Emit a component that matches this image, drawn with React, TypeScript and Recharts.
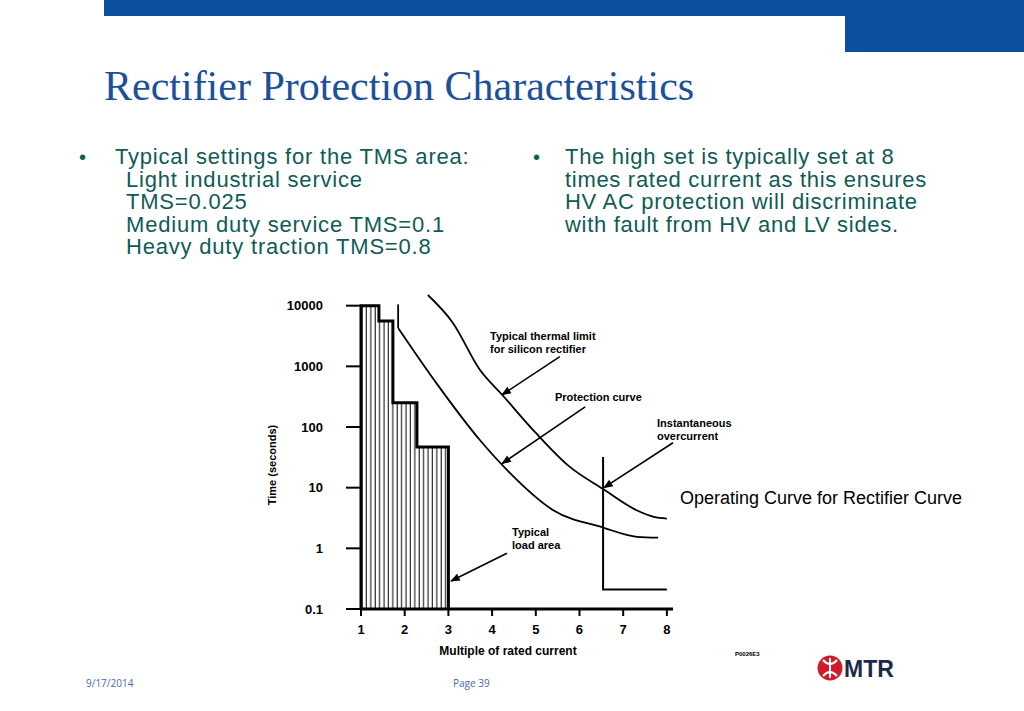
import React from "react";
import {
  ComposedChart, Area, Line, XAxis, YAxis, ReferenceLine,
} from "recharts";

// typical load area (stepped), multiple of rated current vs time (s)
const loadX = [1, 1, 1.41, 1.73, 2.28, 3, 3];
const loadT = [0.1, 10000, 5600, 250, 47, 47, 0.1];

// typical thermal limit for silicon rectifier
const thermalX = [2.53, 3.1, 3.72, 4.23, 5.0, 5.78, 6.54, 7.32, 7.7, 8.0];
const thermalT = [15000, 5250, 880, 340, 80, 22, 9.5, 4.2, 3.3, 3.1];

// protection curve (short vertical start + inverse curve)
const highSetX = [1.85, 1.85];
const highSetT = [10500, 4300];
const protX = [1.85, 2.75, 3.72, 4.34, 5.39, 6.54, 7.32, 7.8];
const protT = [4300, 500, 61, 19.6, 4.3, 2.2, 1.55, 1.5];

// instantaneous overcurrent
const instX = [6.54, 6.54, 8.0];
const instT = [32, 0.21, 0.21];

const xTicks = [1, 2, 3, 4, 5, 6, 7, 8];
const yTicks = [0.1, 1, 10, 100, 1000, 10000];

// annotation arrows: from (x1,t1) to (x2,t2)
const arrows = [
  { x1: 5.55, t1: 1445, x2: 4.23, t2: 340 },
  { x1: 6.13, t1: 215, x2: 4.23, t2: 25 },
  { x1: 8.14, t1: 55, x2: 6.56, t2: 10 },
  { x1: 4.34, t1: 0.83, x2: 3.06, t2: 0.29 },
];

const leftBullet = [
  "Typical settings for the TMS area:",
  "Light industrial service",
  "TMS=0.025",
  "Medium duty service TMS=0.1",
  "Heavy duty traction TMS=0.8",
];
const rightBullet = [
  "The high set is typically set at 8",
  "times rated current as this ensures",
  "HV AC protection will discriminate",
  "with fault from HV and LV sides.",
];

const toPts = (xs: number[], ts: number[]) => xs.map((x, i) => ({ x, t: ts[i] }));

const chartFont = "'Liberation Sans', Arial, sans-serif";
const bodyColor = "#0f5b58";

const ArrowShape = (p: any) => (
  <line
    x1={p.x1} y1={p.y1} x2={p.x2} y2={p.y2}
    stroke="#000" strokeWidth={1.6} markerEnd="url(#arrowHead)"
  />
);

const note: React.CSSProperties = {
  position: "absolute",
  fontFamily: chartFont,
  fontWeight: 700,
  fontSize: 11,
  lineHeight: "13px",
  color: "#000",
  whiteSpace: "nowrap",
};

const bodyText: React.CSSProperties = {
  position: "absolute",
  top: 146,
  fontFamily: chartFont,
  fontSize: 22,
  letterSpacing: 0.8,
  lineHeight: "22.5px",
  color: bodyColor,
  whiteSpace: "nowrap",
};

export default function App() {
  const tickStyle = { fill: "#000", fontSize: 13, fontWeight: 700, fontFamily: chartFont };
  return (
    <div style={{ position: "absolute", left: 0, top: 0, width: 1024, height: 711, background: "#fff", overflow: "hidden" }}>
      {/* header bars */}
      <div style={{ position: "absolute", left: 104, top: 0, width: 920, height: 16, background: "#0b4fa0" }} />
      <div style={{ position: "absolute", left: 845, top: 0, width: 179, height: 52, background: "#0b4fa0" }} />

      <div style={{ position: "absolute", left: 104, top: 62, fontFamily: "'Liberation Serif', 'Times New Roman', serif", fontSize: 42, color: "#1c4f9c", whiteSpace: "nowrap", lineHeight: "48px" }}>
        Rectifier Protection Characteristics
      </div>

      {/* bullets */}
      <div style={{ ...bodyText, left: 79, fontSize: 20, letterSpacing: 0 }}>•</div>
      <div style={{ ...bodyText, left: 115 }}>
        {leftBullet.map((s, i) => (
          <div key={i} style={{ paddingLeft: i === 0 ? 0 : 11 }}>{s}</div>
        ))}
      </div>
      <div style={{ ...bodyText, left: 533, fontSize: 20, letterSpacing: 0 }}>•</div>
      <div style={{ ...bodyText, left: 565, letterSpacing: 0.7 }}>
        {rightBullet.map((s, i) => <div key={i}>{s}</div>)}
      </div>

      {/* chart */}
      <div style={{ position: "absolute", left: 250, top: 280 }}>
        <ComposedChart width={440} height={390} margin={{ top: 15, right: 17, bottom: 13, left: 0 }}>
          <defs>
            <pattern id="hatch" width="4.4" height="10" patternUnits="userSpaceOnUse">
              <line x1="2" y1="0" x2="2" y2="10" stroke="#000" strokeWidth="1" />
            </pattern>
            <marker id="arrowHead" viewBox="0 0 10 10" refX="9" refY="5" markerWidth="7" markerHeight="6" orient="auto">
              <path d="M0,1 L10,5 L0,9 z" fill="#000" />
            </marker>
          </defs>
          <XAxis
            dataKey="x"
            type="number"
            domain={[1, 8.14]}
            ticks={xTicks}
            height={48}
            tickSize={7}
            tickMargin={9}
            axisLine={{ stroke: "#000", strokeWidth: 3 }}
            tickLine={{ stroke: "#000", strokeWidth: 2 }}
            tick={tickStyle}
            label={{
              value: "Multiple of rated current",
              position: "insideBottom",
              offset: 2,
              dx: -9,
              style: { fill: "#000", fontSize: 12, fontWeight: 700, fontFamily: chartFont },
            }}
          />
          <YAxis
            type="number"
            scale="log"
            domain={[0.1, 15000]}
            ticks={yTicks}
            width={111}
            axisLine={false}
            tickSize={15}
            tickMargin={23}
            tickLine={{ stroke: "#000", strokeWidth: 2 }}
            tick={tickStyle}
            tickFormatter={(v: number) => String(v)}
            label={{
              content: (p: any) => {
                const vb = p.viewBox || { x: 0, y: 15, height: 314 };
                const x = vb.x + 22;
                const y = vb.y + 170;
                return (
                  <text
                    x={x} y={y}
                    transform={`rotate(-90, ${x}, ${y})`}
                    textAnchor="middle"
                    dominantBaseline="central"
                    style={{ fill: "#000", fontSize: 11, fontWeight: 700, fontFamily: chartFont }}
                  >
                    Time (seconds)
                  </text>
                );
              },
            }}
          />
          <Area
            data={toPts(loadX, loadT)}
            dataKey="t"
            type="stepAfter"
            baseValue="dataMin"
            stroke="#000"
            strokeWidth={3}
            fill="url(#hatch)"
            fillOpacity={1}
            dot={false}
            activeDot={false}
            isAnimationActive={false}
          />
          <Line data={toPts(thermalX, thermalT)} dataKey="t" type="monotone" stroke="#000" strokeWidth={1.8} dot={false} activeDot={false} isAnimationActive={false} />
          <Line data={toPts(highSetX, highSetT)} dataKey="t" type="linear" stroke="#000" strokeWidth={1.8} dot={false} activeDot={false} isAnimationActive={false} />
          <Line data={toPts(protX, protT)} dataKey="t" type="monotone" stroke="#000" strokeWidth={1.8} dot={false} activeDot={false} isAnimationActive={false} />
          <Line data={toPts(instX, instT)} dataKey="t" type="linear" stroke="#000" strokeWidth={2} dot={false} activeDot={false} isAnimationActive={false} />
          {arrows.map((a, i) => (
            <ReferenceLine
              key={i}
              segment={[{ x: a.x1, y: a.t1 }, { x: a.x2, y: a.t2 }]}
              ifOverflow="visible"
              shape={ArrowShape}
            />
          ))}
        </ComposedChart>
      </div>

      {/* annotations */}
      <div style={{ ...note, left: 490, top: 330 }}>Typical thermal limit<br />for silicon rectifier</div>
      <div style={{ ...note, left: 555, top: 391 }}>Protection curve</div>
      <div style={{ ...note, left: 657, top: 417 }}>Instantaneous<br />overcurrent</div>
      <div style={{ ...note, left: 512, top: 526 }}>Typical<br />load area</div>
      <div style={{ ...note, left: 735, top: 648, fontSize: 6 }}>P0026E3</div>

      <div style={{ position: "absolute", left: 680, top: 487, fontFamily: chartFont, fontSize: 18, lineHeight: "22px", color: "#000", whiteSpace: "nowrap" }}>
        Operating Curve for Rectifier Curve
      </div>

      {/* footer */}
      <div style={{ position: "absolute", left: 86, top: 676, fontFamily: "'Open Sans', sans-serif", fontSize: 10, color: "#4a6aa8" }}>9/17/2014</div>
      <div style={{ position: "absolute", left: 453, top: 676, fontFamily: "'Open Sans', sans-serif", fontSize: 10, color: "#4a6aa8" }}>Page 39</div>
      <svg style={{ position: "absolute", left: 816, top: 654 }} width={85} height={28}>
        <circle cx={14} cy={14} r={12.5} fill="#d01c2a" />
        <line x1={14} y1={4} x2={14} y2={24} stroke="#fff" strokeWidth={2} />
        <path d="M7,6 Q14,14 21,6" stroke="#fff" strokeWidth={2} fill="none" />
        <path d="M7,22 Q14,14 21,22" stroke="#fff" strokeWidth={2} fill="none" />
        <text x={28} y={23} style={{ fontFamily: chartFont, fontWeight: 700, fontSize: 23, fill: "#1b2a4a" }}>MTR</text>
      </svg>
    </div>
  );
}
